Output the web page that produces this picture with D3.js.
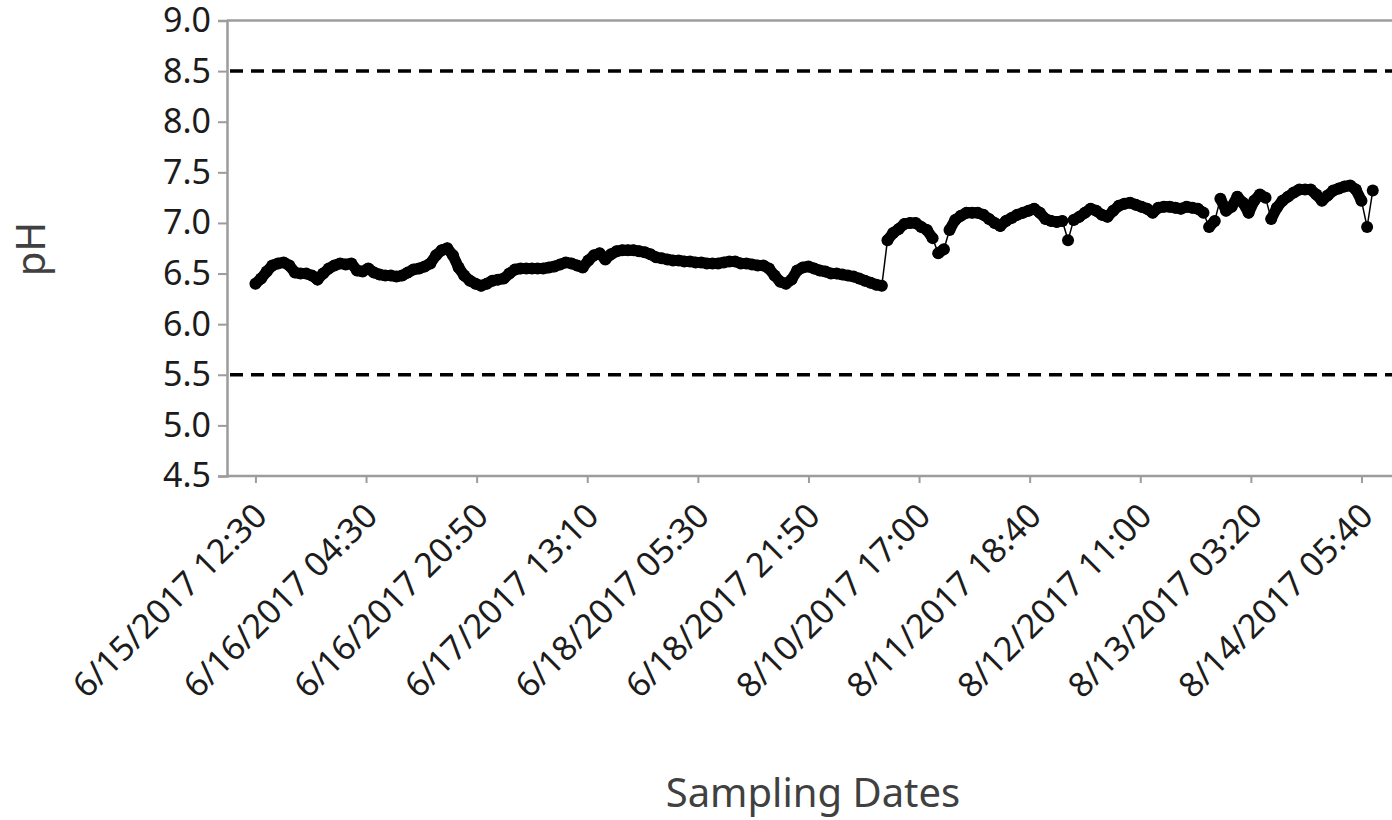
<!DOCTYPE html>
<html>
<head>
<meta charset="utf-8">
<script src="https://cdn.jsdelivr.net/npm/d3@7"></script>
<style>
  body { margin: 0; background: #fff; }
  svg { display: block; }
</style>
</head>
<body>
<svg id="chart"></svg>
<script>
// Tick labels (sampling dates) and their sample position on the category axis
const tickLabels = [
  "6/15/2017 12:30", "6/16/2017 04:30", "6/16/2017 20:50", "6/17/2017 13:10",
  "6/18/2017 05:30", "6/18/2017 21:50", "8/10/2017 17:00", "8/11/2017 18:40",
  "8/12/2017 11:00", "8/13/2017 03:20", "8/14/2017 05:40"
];
const tickSamples = [0, 98, 196, 294, 392, 490, 588, 686, 784, 882, 980];

// pH readings, one every 5 samples
const sampleStep = 5;
const phValues = [
  6.40, 6.45, 6.52, 6.58, 6.60, 6.61, 6.58, 6.51, 6.50, 6.50,
  6.48, 6.44, 6.50, 6.55, 6.58, 6.60, 6.59, 6.60, 6.53, 6.52,
  6.55, 6.51, 6.49, 6.48, 6.48, 6.47, 6.48, 6.51, 6.54, 6.55,
  6.57, 6.60, 6.68, 6.73, 6.75, 6.68, 6.56, 6.48, 6.43, 6.40,
  6.38, 6.40, 6.43, 6.44, 6.45, 6.50, 6.54, 6.55, 6.55, 6.55,
  6.55, 6.55, 6.56, 6.57, 6.59, 6.61, 6.60, 6.58, 6.56, 6.63,
  6.68, 6.70, 6.64, 6.69, 6.72, 6.73, 6.73, 6.73, 6.72, 6.71,
  6.69, 6.66, 6.65, 6.64, 6.63, 6.63, 6.62, 6.62, 6.61, 6.61,
  6.60, 6.60, 6.60, 6.61, 6.62, 6.62, 6.60, 6.60, 6.59, 6.58,
  6.58, 6.55, 6.48, 6.42, 6.40, 6.44, 6.53, 6.56, 6.57, 6.55,
  6.53, 6.52, 6.50, 6.50, 6.49, 6.48, 6.47, 6.45, 6.43, 6.41,
  6.39, 6.38, 6.83, 6.90, 6.94, 6.99, 7.00, 7.00, 6.96, 6.93,
  6.85, 6.70, 6.74, 6.93, 7.03, 7.07, 7.10, 7.10, 7.10, 7.08,
  7.04, 7.00, 6.97, 7.02, 7.05, 7.08, 7.10, 7.12, 7.14, 7.10,
  7.04, 7.02, 7.01, 7.02, 6.83, 7.03, 7.06, 7.10, 7.14, 7.12,
  7.08, 7.06, 7.12, 7.17, 7.19, 7.20, 7.18, 7.16, 7.14, 7.10,
  7.15, 7.16, 7.16, 7.15, 7.14, 7.16, 7.15, 7.14, 7.10, 6.96,
  7.02, 7.24, 7.12, 7.16, 7.26, 7.20, 7.10, 7.22, 7.28, 7.25,
  7.04, 7.15, 7.22, 7.26, 7.30, 7.33, 7.33, 7.33, 7.28, 7.22,
  7.27, 7.32, 7.34, 7.36, 7.37, 7.33, 7.22, 6.96, 7.32
];

// Guide lines (acceptable pH range)
const limitLines = [8.5, 5.5];
const yTicks = [4.5, 5.0, 5.5, 6.0, 6.5, 7.0, 7.5, 8.0, 8.5, 9.0];

const width = 1392;
const height = 820;
const margin = {top: 20.5, left: 227, bottom: 476};

const svg = d3.select("#chart")
  .attr("width", width)
  .attr("height", height);

const data = phValues.map((v, i) => ({sample: i * sampleStep, ph: v}));

// category axis: samples spread evenly, axis runs past the right edge
const x = d3.scaleLinear()
  .domain([-25.2, 1030])
  .range([margin.left, margin.left + 1055.2 * 1.1286]);

const y = d3.scaleLinear()
  .domain([4.5, 9.0])
  .range([margin.bottom, margin.top]);

const axisColor = "#9c9c9c";
const font = "'Noto Sans', 'Open Sans', sans-serif";

// top frame line
svg.append("line")
  .attr("x1", margin.left)
  .attr("x2", width + 10)
  .attr("y1", y(9.0))
  .attr("y2", y(9.0))
  .attr("stroke", axisColor)
  .attr("stroke-width", 2.5);

// y axis
const yAxis = svg.append("g")
  .attr("transform", `translate(${margin.left},0)`)
  .call(d3.axisLeft(y).tickValues(yTicks).tickFormat(d3.format(".1f")).tickSize(9).tickPadding(7));
yAxis.select(".domain").attr("stroke", axisColor).attr("stroke-width", 2.5);
yAxis.selectAll(".tick line").attr("stroke", axisColor).attr("stroke-width", 2);
yAxis.selectAll("text")
  .attr("font-family", font)
  .attr("font-size", 34)
  .attr("fill", "#1c1c1c");

// x axis
const xAxis = svg.append("g")
  .attr("transform", `translate(0,${margin.bottom})`)
  .call(d3.axisBottom(x).tickValues(tickSamples).tickFormat((d, i) => tickLabels[i]).tickSize(7).tickSizeOuter(0));
xAxis.select(".domain").attr("stroke", axisColor).attr("stroke-width", 2.5)
  .attr("d", `M${margin.left},0H${width + 10}`);
xAxis.selectAll(".tick line").attr("stroke", axisColor).attr("stroke-width", 2);
xAxis.selectAll("text")
  .attr("font-family", font)
  .attr("font-size", 34)
  .attr("fill", "#1c1c1c")
  .attr("text-anchor", "end")
  .attr("x", 0)
  .attr("y", 0)
  .attr("dy", 0)
  .attr("transform", "translate(13,42) rotate(-45)");

// dashed limit lines
svg.selectAll(".limit")
  .data(limitLines)
  .enter()
  .append("line")
  .attr("class", "limit")
  .attr("x1", margin.left + 3)
  .attr("x2", width + 10)
  .attr("y1", d => y(d))
  .attr("y2", d => y(d))
  .attr("stroke", "#000")
  .attr("stroke-width", 3.5)
  .attr("stroke-dasharray", "13,8");

// thin connecting line
svg.append("path")
  .datum(data)
  .attr("fill", "none")
  .attr("stroke", "#000")
  .attr("stroke-width", 1.5)
  .attr("d", d3.line().x(d => x(d.sample)).y(d => y(d.ph)));

// the markers sit so close together that they merge into a band;
// fill the space between neighbouring markers unless the reading jumps
const pairs = d3.pairs(data).filter(([a, b]) => Math.abs(b.ph - a.ph) < 0.125);
svg.selectAll(".band")
  .data(pairs)
  .enter()
  .append("line")
  .attr("class", "band")
  .attr("x1", d => x(d[0].sample))
  .attr("y1", d => y(d[0].ph))
  .attr("x2", d => x(d[1].sample))
  .attr("y2", d => y(d[1].ph))
  .attr("stroke", "#000")
  .attr("stroke-width", 11)
  .attr("stroke-linecap", "round");

// sample markers
svg.selectAll(".pt")
  .data(data)
  .enter()
  .append("circle")
  .attr("class", "pt")
  .attr("cx", d => x(d.sample))
  .attr("cy", d => y(d.ph))
  .attr("r", 6)
  .attr("fill", "#000");

// axis titles
svg.append("text")
  .attr("transform", "translate(45,249) rotate(-90)")
  .attr("text-anchor", "middle")
  .attr("font-family", font)
  .attr("font-size", 40)
  .attr("fill", "#404040")
  .text("pH");

svg.append("text")
  .attr("x", 813)
  .attr("y", 807)
  .attr("text-anchor", "middle")
  .attr("font-family", font)
  .attr("font-size", 40)
  .attr("fill", "#404040")
  .text("Sampling Dates");
</script>
</body>
</html>
